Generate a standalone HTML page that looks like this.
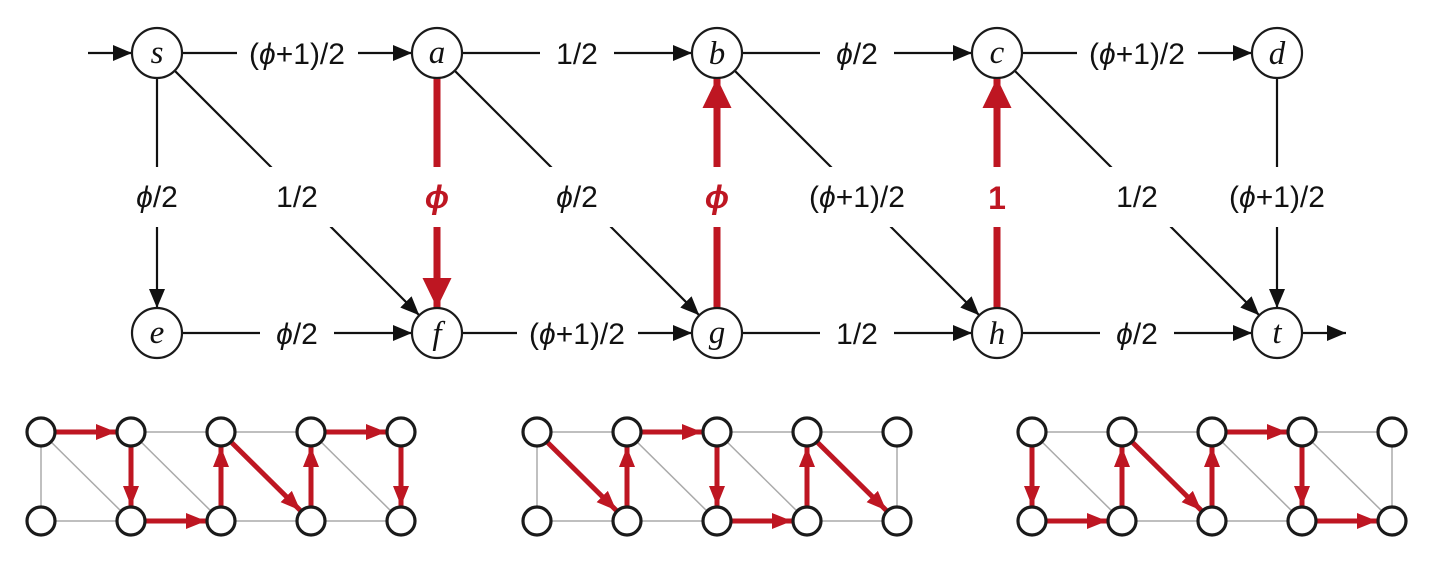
<!DOCTYPE html>
<html><head><meta charset="utf-8"><style>
html,body{margin:0;padding:0;background:#fff;}
svg{display:block;}
.l{font-family:"Liberation Sans","DejaVu Sans",sans-serif;font-size:30px;fill:#111;text-anchor:middle;}
.n{font-family:"Liberation Serif","DejaVu Serif",serif;font-style:italic;font-size:33px;fill:#111;text-anchor:middle;}
.r{font-family:"Liberation Sans","DejaVu Sans",sans-serif;font-size:32px;font-weight:bold;fill:#be1622;text-anchor:middle;}
</style></head><body>
<svg width="1448" height="569" viewBox="0 0 1448 569" xmlns="http://www.w3.org/2000/svg">
<defs>
<marker id="ab" markerUnits="userSpaceOnUse" markerWidth="20" markerHeight="16" refX="19" refY="8" orient="auto"><path d="M0,0 L19,8 L0,16 z" fill="#111"/></marker>
<marker id="ar" markerUnits="userSpaceOnUse" markerWidth="30" markerHeight="30" refX="30" refY="14.5" orient="auto"><path d="M0,0 L30,14.5 L0,29 z" fill="#be1622"/></marker>
<marker id="as" markerUnits="userSpaceOnUse" markerWidth="20" markerHeight="16" refX="20" refY="8" orient="auto"><path d="M0,0 L20,8 L0,16 z" fill="#be1622"/></marker>
<g id="base">
<g stroke="#aaa" stroke-width="1.5" fill="none">
<line x1="41" y1="432" x2="401" y2="432"/><line x1="41" y1="521" x2="401" y2="521"/>
<line x1="41" y1="432" x2="41" y2="521"/><line x1="131" y1="432" x2="131" y2="521"/><line x1="221" y1="432" x2="221" y2="521"/><line x1="311" y1="432" x2="311" y2="521"/><line x1="401" y1="432" x2="401" y2="521"/>
<line x1="41" y1="432" x2="131" y2="521"/><line x1="131" y1="432" x2="221" y2="521"/><line x1="221" y1="432" x2="311" y2="521"/><line x1="311" y1="432" x2="401" y2="521"/>
</g>
</g>
<g id="nodes" fill="#fff" stroke="#1a1a1a" stroke-width="3.2">
<circle cx="41" cy="432" r="14"/><circle cx="131" cy="432" r="14"/><circle cx="221" cy="432" r="14"/><circle cx="311" cy="432" r="14"/><circle cx="401" cy="432" r="14"/>
<circle cx="41" cy="521" r="14"/><circle cx="131" cy="521" r="14"/><circle cx="221" cy="521" r="14"/><circle cx="311" cy="521" r="14"/><circle cx="401" cy="521" r="14"/>
</g>
</defs>

<g stroke="#111" stroke-width="2.2" fill="none" marker-end="url(#ab)">
<line x1="88" y1="53" x2="132" y2="53"/>
<line x1="182" y1="53" x2="412" y2="53"/>
<line x1="462" y1="53" x2="692" y2="53"/>
<line x1="742" y1="53" x2="972" y2="53"/>
<line x1="1022" y1="53" x2="1252" y2="53"/>
<line x1="182" y1="333" x2="412" y2="333"/>
<line x1="462" y1="333" x2="692" y2="333"/>
<line x1="742" y1="333" x2="972" y2="333"/>
<line x1="1022" y1="333" x2="1252" y2="333"/>
<line x1="1302" y1="333" x2="1346" y2="333"/>
<line x1="157" y1="78" x2="157" y2="308"/>
<line x1="1277" y1="78" x2="1277" y2="308"/>
<line x1="174.7" y1="70.7" x2="419.3" y2="315.3"/>
<line x1="454.7" y1="70.7" x2="699.3" y2="315.3"/>
<line x1="734.7" y1="70.7" x2="979.3" y2="315.3"/>
<line x1="1014.7" y1="70.7" x2="1259.3" y2="315.3"/>
</g>
<g stroke="#be1622" stroke-width="7" fill="none" marker-end="url(#ar)">
<line x1="437" y1="78" x2="437" y2="308"/>
<line x1="717" y1="308" x2="717" y2="78"/>
<line x1="997" y1="308" x2="997" y2="78"/>
</g>
<g fill="#fff">
<rect x="237" y="34" width="121" height="40"/>
<rect x="540" y="34" width="74" height="40"/>
<rect x="820" y="34" width="74" height="40"/>
<rect x="1077" y="34" width="121" height="40"/>
<rect x="260" y="314" width="74" height="40"/>
<rect x="517" y="314" width="121" height="40"/>
<rect x="820" y="314" width="74" height="40"/>
<rect x="1100" y="314" width="74" height="40"/>
<rect x="120" y="167" width="74" height="60"/>
<rect x="260" y="167" width="74" height="60"/>
<rect x="410" y="167" width="54" height="60"/>
<rect x="540" y="167" width="74" height="60"/>
<rect x="690" y="167" width="54" height="60"/>
<rect x="797" y="167" width="121" height="60"/>
<rect x="970" y="167" width="54" height="60"/>
<rect x="1100" y="167" width="74" height="60"/>
<rect x="1217" y="167" width="121" height="60"/>
</g>
<g class="l">
<text x="297" y="64">(<tspan font-style="italic">ϕ</tspan>+1)/2</text>
<text x="577" y="64">1/2</text>
<text x="857" y="64"><tspan font-style="italic">ϕ</tspan>/2</text>
<text x="1137" y="64">(<tspan font-style="italic">ϕ</tspan>+1)/2</text>
<text x="297" y="344"><tspan font-style="italic">ϕ</tspan>/2</text>
<text x="577" y="344">(<tspan font-style="italic">ϕ</tspan>+1)/2</text>
<text x="857" y="344">1/2</text>
<text x="1137" y="344"><tspan font-style="italic">ϕ</tspan>/2</text>
<text x="157" y="207"><tspan font-style="italic">ϕ</tspan>/2</text>
<text x="297" y="207">1/2</text>
<text x="577" y="207"><tspan font-style="italic">ϕ</tspan>/2</text>
<text x="857" y="207">(<tspan font-style="italic">ϕ</tspan>+1)/2</text>
<text x="1137" y="207">1/2</text>
<text x="1277" y="207">(<tspan font-style="italic">ϕ</tspan>+1)/2</text>
</g>
<g class="r">
<text x="437" y="208" font-style="italic">ϕ</text>
<text x="717" y="208" font-style="italic">ϕ</text>
<text x="997" y="209">1</text>
</g>
<g fill="#fff" stroke="#1a1a1a" stroke-width="2.2">
<circle cx="157" cy="53" r="25"/><circle cx="437" cy="53" r="25"/><circle cx="717" cy="53" r="25"/><circle cx="997" cy="53" r="25"/><circle cx="1277" cy="53" r="25"/>
<circle cx="157" cy="333" r="25"/><circle cx="437" cy="333" r="25"/><circle cx="717" cy="333" r="25"/><circle cx="997" cy="333" r="25"/><circle cx="1277" cy="333" r="25"/>
</g>
<g class="n">
<text x="157" y="63">s</text><text x="437" y="63">a</text><text x="717" y="64">b</text><text x="997" y="63">c</text><text x="1277" y="64">d</text>
<text x="157" y="343">e</text><text x="437" y="344">f</text><text x="717" y="343">g</text><text x="997" y="344">h</text><text x="1277" y="343">t</text>
</g>

<use href="#base"/><use href="#base" x="496"/><use href="#base" x="991"/>
<g stroke="#be1622" stroke-width="5" fill="none" marker-end="url(#as)">
<line x1="56" y1="432" x2="116" y2="432"/>
<line x1="131" y1="447" x2="131" y2="506"/>
<line x1="146" y1="521" x2="206" y2="521"/>
<line x1="221" y1="506" x2="221" y2="447"/>
<line x1="231.6" y1="442.5" x2="300.4" y2="510.5"/>
<line x1="311" y1="506" x2="311" y2="447"/>
<line x1="326" y1="432" x2="386" y2="432"/>
<line x1="401" y1="447" x2="401" y2="506"/>

<line x1="547.6" y1="442.5" x2="616.4" y2="510.5"/>
<line x1="627" y1="506" x2="627" y2="447"/>
<line x1="642" y1="432" x2="702" y2="432"/>
<line x1="717" y1="447" x2="717" y2="506"/>
<line x1="732" y1="521" x2="792" y2="521"/>
<line x1="807" y1="506" x2="807" y2="447"/>
<line x1="817.6" y1="442.5" x2="886.4" y2="510.5"/>

<line x1="1032" y1="447" x2="1032" y2="506"/>
<line x1="1047" y1="521" x2="1107" y2="521"/>
<line x1="1122" y1="506" x2="1122" y2="447"/>
<line x1="1132.6" y1="442.5" x2="1201.4" y2="510.5"/>
<line x1="1212" y1="506" x2="1212" y2="447"/>
<line x1="1227" y1="432" x2="1287" y2="432"/>
<line x1="1302" y1="447" x2="1302" y2="506"/>
<line x1="1317" y1="521" x2="1377" y2="521"/>
</g>
<use href="#nodes"/><use href="#nodes" x="496"/><use href="#nodes" x="991"/>
</svg>
</body></html>
